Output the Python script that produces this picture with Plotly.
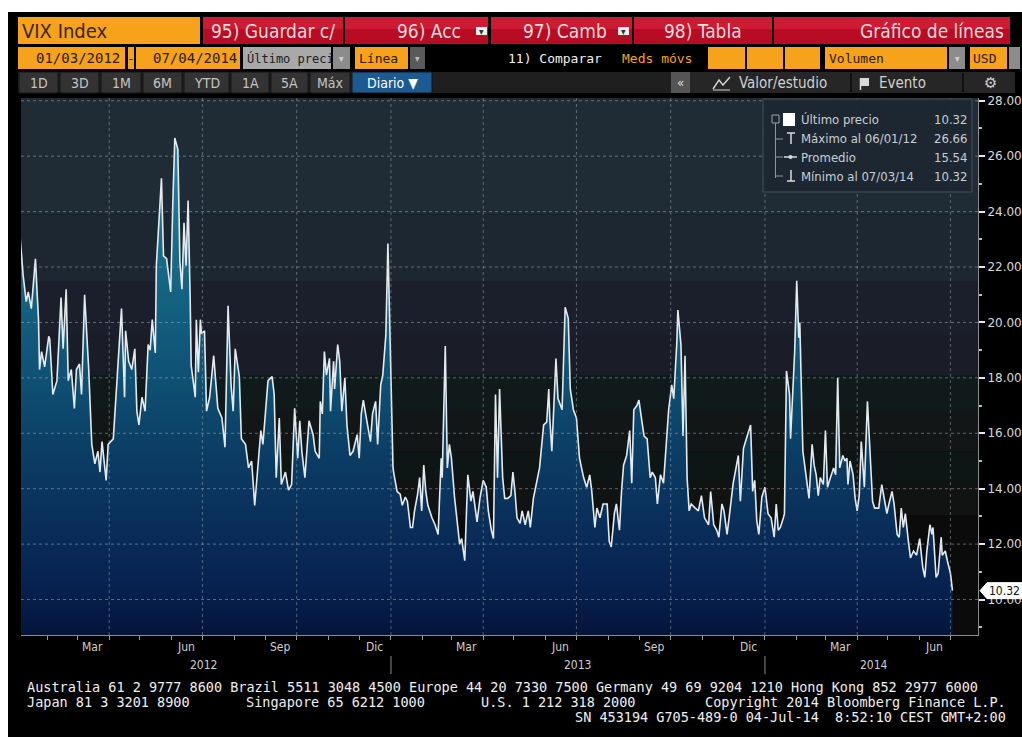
import plotly.graph_objects as go

# ---------------- data ----------------
dates = [
    "2012-01-05", "2012-01-08", "2012-01-11", "2012-01-13", "2012-01-16", "2012-01-20", "2012-01-23",
    "2012-01-24", "2012-01-26", "2012-01-29", "2012-02-02", "2012-02-03", "2012-02-06", "2012-02-10",
    "2012-02-14", "2012-02-16", "2012-02-19", "2012-02-21", "2012-02-24", "2012-02-27", "2012-02-29",
    "2012-03-03", "2012-03-05", "2012-03-08", "2012-03-12", "2012-03-15", "2012-03-18", "2012-03-21",
    "2012-03-23", "2012-03-25", "2012-03-29", "2012-03-31", "2012-04-05", "2012-04-08", "2012-04-13",
    "2012-04-16", "2012-04-17", "2012-04-20", "2012-04-23", "2012-04-26", "2012-04-28", "2012-04-30",
    "2012-05-03", "2012-05-06", "2012-05-09", "2012-05-11", "2012-05-13", "2012-05-16", "2012-05-17",
    "2012-05-22", "2012-05-24", "2012-05-27", "2012-05-29", "2012-05-31", "2012-06-02", "2012-06-04",
    "2012-06-07", "2012-06-09", "2012-06-11", "2012-06-13", "2012-06-15", "2012-06-17", "2012-06-19",
    "2012-06-20", "2012-06-24", "2012-06-25", "2012-06-27", "2012-06-29", "2012-06-30", "2012-07-03",
    "2012-07-05", "2012-07-08", "2012-07-12", "2012-07-13", "2012-07-16", "2012-07-20", "2012-07-23",
    "2012-07-26", "2012-07-29", "2012-07-31", "2012-08-02", "2012-08-06", "2012-08-08", "2012-08-12",
    "2012-08-15", "2012-08-18", "2012-08-21", "2012-08-25", "2012-08-27", "2012-08-29", "2012-08-31",
    "2012-09-03", "2012-09-07", "2012-09-09", "2012-09-11", "2012-09-14", "2012-09-16", "2012-09-20",
    "2012-09-23", "2012-09-26", "2012-09-29", "2012-10-02", "2012-10-04", "2012-10-06", "2012-10-09",
    "2012-10-13", "2012-10-17", "2012-10-19", "2012-10-23", "2012-10-24", "2012-10-26", "2012-10-28",
    "2012-10-30", "2012-11-02", "2012-11-03", "2012-11-06", "2012-11-07", "2012-11-10", "2012-11-12",
    "2012-11-14", "2012-11-17", "2012-11-19", "2012-11-22", "2012-11-25", "2012-11-29", "2012-12-01",
    "2012-12-03", "2012-12-05", "2012-12-08", "2012-12-12", "2012-12-14", "2012-12-17", "2012-12-19",
    "2012-12-22", "2012-12-24", "2012-12-27", "2012-12-29", "2013-01-01", "2013-01-03", "2013-01-04",
    "2013-01-07", "2013-01-10", "2013-01-12", "2013-01-15", "2013-01-17", "2013-01-20", "2013-01-22",
    "2013-01-24", "2013-01-27", "2013-01-29", "2013-01-31", "2013-02-02", "2013-02-04", "2013-02-06",
    "2013-02-10", "2013-02-13", "2013-02-16", "2013-02-19", "2013-02-20", "2013-02-23", "2013-02-25",
    "2013-02-27", "2013-03-01", "2013-03-04", "2013-03-06", "2013-03-09", "2013-03-11", "2013-03-14",
    "2013-03-17", "2013-03-20", "2013-03-22", "2013-03-26", "2013-03-29", "2013-04-01", "2013-04-04",
    "2013-04-06", "2013-04-09", "2013-04-11", "2013-04-13", "2013-04-15", "2013-04-17", "2013-04-20",
    "2013-04-22", "2013-04-25", "2013-04-28", "2013-04-30", "2013-05-02", "2013-05-04", "2013-05-07",
    "2013-05-09", "2013-05-12", "2013-05-15", "2013-05-17", "2013-05-20", "2013-05-23", "2013-05-26",
    "2013-05-30", "2013-06-02", "2013-06-04", "2013-06-05", "2013-06-07", "2013-06-11", "2013-06-13",
    "2013-06-17", "2013-06-20", "2013-06-23", "2013-06-25", "2013-06-28", "2013-07-01", "2013-07-04",
    "2013-07-08", "2013-07-11", "2013-07-14", "2013-07-16", "2013-07-19", "2013-07-21", "2013-07-24",
    "2013-07-27", "2013-07-31", "2013-08-02", "2013-08-04", "2013-08-07", "2013-08-09", "2013-08-12",
    "2013-08-14", "2013-08-16", "2013-08-19", "2013-08-22", "2013-08-24", "2013-08-26", "2013-08-29",
    "2013-08-31", "2013-09-03", "2013-09-05", "2013-09-08", "2013-09-11", "2013-09-13", "2013-09-16",
    "2013-09-18", "2013-09-21", "2013-09-24", "2013-09-26", "2013-09-29", "2013-10-02", "2013-10-04",
    "2013-10-07", "2013-10-08", "2013-10-11", "2013-10-13", "2013-10-15", "2013-10-17", "2013-10-19",
    "2013-10-21", "2013-10-25", "2013-10-28", "2013-10-31", "2013-11-03", "2013-11-07", "2013-11-09",
    "2013-11-12", "2013-11-15", "2013-11-17", "2013-11-20", "2013-11-22", "2013-11-25", "2013-11-27",
    "2013-12-01", "2013-12-04", "2013-12-06", "2013-12-08", "2013-12-11", "2013-12-13", "2013-12-16",
    "2013-12-18", "2013-12-20", "2013-12-22", "2013-12-24", "2013-12-26", "2013-12-29", "2014-01-01",
    "2014-01-04", "2014-01-07", "2014-01-10", "2014-01-12", "2014-01-14", "2014-01-16", "2014-01-19",
    "2014-01-20", "2014-01-22", "2014-01-25", "2014-01-26", "2014-01-28", "2014-01-30", "2014-02-01",
    "2014-02-03", "2014-02-04", "2014-02-06", "2014-02-07", "2014-02-10", "2014-02-13", "2014-02-16",
    "2014-02-18", "2014-02-20", "2014-02-22", "2014-02-24", "2014-02-27", "2014-03-01", "2014-03-03",
    "2014-03-05", "2014-03-09", "2014-03-11", "2014-03-13", "2014-03-15", "2014-03-18", "2014-03-20",
    "2014-03-22", "2014-03-23", "2014-03-25", "2014-03-28", "2014-03-30", "2014-04-01", "2014-04-03",
    "2014-04-05", "2014-04-08", "2014-04-11", "2014-04-13", "2014-04-16", "2014-04-18", "2014-04-22",
    "2014-04-25", "2014-04-27", "2014-04-30", "2014-05-02", "2014-05-05", "2014-05-07", "2014-05-10",
    "2014-05-12", "2014-05-14", "2014-05-16", "2014-05-18", "2014-05-21", "2014-05-23", "2014-05-26",
    "2014-05-29", "2014-06-01", "2014-06-04", "2014-06-06", "2014-06-08", "2014-06-11", "2014-06-13",
    "2014-06-14", "2014-06-17", "2014-06-19", "2014-06-22", "2014-06-23", "2014-06-26", "2014-06-28",
    "2014-07-01", "2014-07-03",
]
vix = [
    23.1, 21.7, 20.75, 21.1, 20.5, 22.3, 20.1,
    18.3, 18.95, 18.4, 19.5, 19.4, 17.4, 17.9,
    20.9, 19.05, 21.2, 17.9, 18.3, 16.9, 18.3,
    18.5, 17.4, 21.0, 18.3, 15.6, 14.9, 15.35,
    14.6, 15.7, 14.3, 15.6, 15.8, 17.7, 20.5,
    17.3, 19.7, 18.6, 18.3, 19.05, 16.8, 16.3,
    17.3, 16.8, 19.2, 19.0, 20.1, 18.9, 22.05,
    25.2, 22.4, 22.3, 21.6, 21.1, 24.2, 26.66,
    26.25, 22.2, 21.2, 23.6, 22.05, 24.4, 20.9,
    18.45, 17.3, 20.1, 18.2, 20.1, 19.6, 19.7,
    16.8, 17.3, 18.8, 18.35, 16.9, 16.55, 15.5,
    20.6, 17.7, 16.8, 19.05, 18.05, 15.8, 15.6,
    14.75, 15.0, 13.4, 15.2, 16.1, 15.6, 16.55,
    17.9, 18.05, 17.4, 14.4, 16.55, 14.15, 14.6,
    13.95, 14.15, 16.9, 15.1, 16.45, 15.35, 14.4,
    16.45, 15.95, 15.35, 15.1, 17.15, 16.7, 18.95,
    18.1, 18.7, 16.8, 18.6, 17.6, 19.2, 18.6,
    16.8, 18.0, 16.3, 15.2, 15.35, 15.95, 15.1,
    16.7, 17.2, 16.55, 15.7, 16.7, 17.15, 15.6,
    17.75, 18.1, 19.55, 22.85, 17.75, 14.75, 14.5,
    13.9, 13.8, 13.4, 13.7, 13.55, 12.6, 12.6,
    13.2, 13.8, 14.4, 13.2, 14.85, 13.9, 13.4,
    12.95, 12.7, 12.35, 15.1, 14.4, 19.15, 14.75,
    15.6, 15.1, 13.7, 12.95, 12.0, 12.2, 11.4,
    14.5, 13.55, 13.9, 12.8, 13.7, 14.3, 14.05,
    13.2, 12.5, 12.2, 17.4, 14.4, 17.6, 14.4,
    13.65, 13.65, 13.75, 14.6, 13.9, 12.95, 12.75,
    13.2, 12.7, 13.2, 12.6, 13.65, 14.2, 14.75,
    16.3, 16.4, 17.6, 16.55, 15.35, 18.7, 17.25,
    16.85, 20.55, 20.15, 17.6, 16.85, 16.55, 15.1,
    14.4, 14.05, 14.5, 13.9, 12.6, 13.3, 12.95,
    13.45, 13.45, 12.1, 11.9, 13.1, 13.45, 12.5,
    13.9, 14.85, 15.2, 16.1, 14.2, 16.85, 17.0,
    17.2, 16.4, 15.9, 15.8, 14.4, 14.6, 14.4,
    13.45, 14.5, 14.2, 15.35, 16.85, 17.75, 17.25,
    19.3, 20.45, 19.2, 15.9, 18.8, 14.4, 13.2,
    13.45, 13.3, 13.2, 13.75, 12.95, 12.7, 13.9,
    12.7, 12.5, 12.25, 13.45, 13.2, 12.35, 12.95,
    14.2, 14.8, 15.2, 13.55, 15.45, 15.7, 16.1,
    16.3, 13.9, 14.3, 12.85, 12.35, 13.7, 14.05,
    13.1, 12.95, 12.25, 13.45, 12.5, 12.6, 12.95,
    13.1, 18.25, 17.4, 15.8, 17.5, 18.95, 21.5,
    19.45, 20.0, 17.0, 15.35, 14.5, 13.65, 15.6,
    14.85, 14.5, 13.75, 14.4, 14.15, 16.1, 14.05,
    14.3, 14.75, 14.5, 18.0, 14.75, 15.2, 15.0,
    15.1, 14.15, 15.0, 14.5, 13.65, 13.2, 13.75,
    15.7, 14.05, 17.15, 15.7, 13.55, 13.3, 13.3,
    14.15, 13.75, 13.1, 13.45, 13.9, 13.45, 12.35,
    12.25, 13.3, 12.6, 13.1, 12.1, 11.5, 11.75,
    11.6, 12.2, 11.15, 10.8, 11.75, 12.7, 12.35,
    12.6, 10.8, 10.95, 12.25, 11.6, 11.75, 11.4,
    10.95, 10.32,
]

y_tick_values = [10, 12, 14, 16, 18, 20, 22, 24, 26, 28]
y_tick_labels = ["10.00", "12.00", "14.00", "16.00", "18.00", "20.00", "22.00", "24.00", "26.00", "28.00"]
y_minor_values = [9, 11, 13, 15, 17, 19, 21, 23, 25, 27]
month_labels = ["Mar", "Jun", "Sep", "Dic", "Mar", "Jun", "Sep", "Dic", "Mar", "Jun"]
month_label_dates = ["2012-03-16", "2012-06-15", "2012-09-15", "2012-12-16", "2013-03-16",
                     "2013-06-15", "2013-09-15", "2013-12-16", "2014-03-16", "2014-06-15"]
year_labels = ["2012", "2013", "2014"]
year_label_dates = ["2012-07-02", "2013-07-02", "2014-04-17"]
year_breaks = ["2013-01-01", "2014-01-01"]
quarter_starts = ["2012-04-01", "2012-07-01", "2012-10-01", "2013-01-01", "2013-04-01",
                  "2013-07-01", "2013-10-01", "2014-01-01", "2014-04-01", "2014-07-01"]
month_starts = ["2012-%02d-01" % m for m in range(2, 13)] + \
               ["2013-%02d-01" % m for m in range(1, 13)] + \
               ["2014-%02d-01" % m for m in range(1, 8)]
legend_rows = [("Último precio", "10.32"), ("Máximo al 06/01/12", "26.66"),
               ("Promedio", "15.54"), ("Mínimo al 07/03/14", "10.32")]
last_value = 10.32

# ---------------- geometry (page pixels; body margin removed below) ----------------
W, H = 1022, 737
L, R, T, B = 21, 978, 98, 635   # plot area in page pixels


def px(x):
    return (x - L) / (R - L)


def py(y):
    return (B - y) / (B - T)


COND = "DejaVu Sans Condensed, Liberation Sans Narrow, Roboto, sans-serif"
MONO = "DejaVu Sans Mono, Liberation Mono, monospace"

shapes = []
annotations = []


def rect(x0, y0, x1, y1, fill, line=None, lw=0, layer="above"):
    shapes.append(dict(type="rect", xref="paper", yref="paper",
                       x0=px(x0), x1=px(x1), y0=py(y1), y1=py(y0),
                       fillcolor=fill, line=dict(color=line or fill, width=lw), layer=layer))


def pline(x0, y0, x1, y1, color, w=1, dash=None):
    d = dict(color=color, width=w)
    if dash:
        d["dash"] = dash
    shapes.append(dict(type="line", xref="paper", yref="paper",
                       x0=px(x0), x1=px(x1), y0=py(y0), y1=py(y1), line=d, layer="above"))


def text(x, y, s, size, color, font=COND, anchor="left"):
    annotations.append(dict(xref="paper", yref="paper", x=px(x), y=py(y), text=s,
                            showarrow=False, xanchor=anchor, yanchor="middle",
                            borderpad=0, font=dict(size=size, color=color, family=font)))


# ---------------- frame ----------------
rect(0, 0, W, 12, "#ffffff")
rect(0, 0, 8, H, "#ffffff")

# ---------------- row 1 ----------------
rect(18, 17, 200, 44, "#f7a21b")
text(21, 31, "VIX Index", 20, "#3a2400")
red_buttons = [(203, 343), (345, 488), (491, 632), (634, 772), (774, 1010)]
for a, b in red_buttons:
    rect(a, 17, b, 44, "#b80c25")
    rect(a, 17, b, 29, "#cf1a33")
text(210, 31, "95) Guardar c/", 19, "#f3dcdc")
text(396, 31, "96) Acc", 19, "#f3dcdc")
text(522, 31, "97) Camb", 19, "#f3dcdc")
text(663, 31, "98) Tabla", 19, "#f3dcdc")
text(1005, 31, "Gráfico de líneas", 19, "#f3dcdc", anchor="right")
for xd in (476, 618):
    rect(xd, 27, xd + 11, 35, "#f0f0f0")
    text(xd + 5.5, 31, "▾", 10, "#333333", anchor="center")

# ---------------- row 2 ----------------
rect(18, 47, 125, 69, "#f7a21b")
text(121, 58, "01/03/2012", 14, "#2a1a00", MONO, "right")
rect(128, 47, 134, 69, "#f7a21b")
text(131, 58, "-", 13, "#2a1a00", MONO, "center")
rect(136, 47, 240, 69, "#f7a21b")
text(238, 58, "07/04/2014", 14, "#2a1a00", MONO, "right")
rect(243, 47, 331, 69, "#a9a9a9")
text(246, 58, "Último preci", 12, "#202020", MONO)
rect(333, 47, 350, 69, "#8c8c8c")
text(341.5, 58, "▾", 10, "#d0d0d0", anchor="center")
rect(355, 47, 408, 69, "#f7a21b")
text(358, 58, "Línea", 13, "#2a1a00", MONO)
rect(410, 47, 425, 69, "#5a5a5a")
text(417.5, 58, "▾", 10, "#bbbbbb", anchor="center")
text(507, 58, "11) Comparar", 13, "#f0f0f0", MONO)
text(621, 58, "Meds móvs", 13, "#f7a21b", MONO)
for a, b in ((708, 745), (747, 783), (785, 820)):
    rect(a, 47, b, 69, "#f7a21b")
rect(825, 47, 947, 69, "#f7a21b")
text(828, 58, "Volumen", 13, "#2a1a00", MONO)
rect(949, 47, 965, 69, "#8c8c8c")
text(957, 58, "▾", 10, "#d0d0d0", anchor="center")
rect(970, 47, 1007, 69, "#f7a21b")
text(972, 58, "USD", 13, "#2a1a00", MONO)
rect(1009, 47, 1020, 69, "#8c8c8c")

# ---------------- row 3 ----------------
rect(18, 72, 1015, 93, "#1f1f1f")
period_buttons = [("1D", 19, 58), ("3D", 60, 99), ("1M", 101, 141), ("6M", 143, 182),
                  ("YTD", 184, 229), ("1A", 231, 269), ("5A", 271, 308), ("Máx", 310, 350)]
for lab, a, b in period_buttons:
    rect(a, 72, b, 93, "#333333", "#151515", 1)
    text((a + b) / 2, 83, lab, 14, "#c4c4c4", anchor="center")
rect(352, 72, 432, 93, "#1c5a92", "#151515", 1)
text(392, 83, "Diario ▼", 14, "#ffffff", anchor="center")
rect(671, 72, 690, 93, "#555555")
text(680.5, 83, "«", 13, "#e0e0e0", anchor="center")
rect(690, 72, 1015, 93, "#262626")
shapes.append(dict(type="path", xref="paper", yref="paper",
                   path="M %f,%f L %f,%f L %f,%f L %f,%f" % (px(713), py(89), px(719), py(80),
                                                            px(723), py(85), px(730), py(77)),
                   line=dict(color="#d0d0d0", width=1.5), layer="above"))
pline(713, 90, 730, 90, "#d0d0d0", 1)
text(738, 83, "Valor/estudio", 15, "#d0d0d0")
pline(851, 73, 851, 92, "#111111", 2)
rect(860, 78, 869, 86, "#d8d8d8")
pline(860.5, 78, 860.5, 90, "#d8d8d8", 1.5)
text(878, 83, "Evento", 15, "#d0d0d0")
pline(963, 73, 963, 92, "#111111", 2)
text(990, 83, "⚙", 15, "#d0d0d0", "DejaVu Sans", "center")

# ---------------- plot background bands (value ranges) ----------------
bands = [(8.0, 13.05, "#0b0b0b"), (13.05, 14.25, "#111212"), (14.25, 15.35, "#0e1515"),
         (15.35, 16.8, "#121616"), (16.8, 18.1, "#101a1b"), (18.1, 19.55, "#1a1d27"),
         (19.55, 21.5, "#1b1f2b"), (21.5, 23.9, "#1c2731"), (23.9, 28.5, "#1f2b35")]
for lo, hi, col in bands:
    shapes.append(dict(type="rect", xref="paper", yref="y", x0=0, x1=1, y0=lo, y1=hi,
                       fillcolor=col, line=dict(width=0), layer="below"))

# grid (drawn above the fill, as in the reference)
for v in y_tick_values:
    shapes.append(dict(type="line", xref="paper", yref="y", x0=0, x1=1, y0=v, y1=v,
                       line=dict(color="rgba(160,170,180,0.55)", width=1, dash="dot"), layer="above"))
for d in quarter_starts:
    shapes.append(dict(type="line", xref="x", yref="paper", x0=d, x1=d, y0=0, y1=1,
                       line=dict(color="rgba(160,170,180,0.5)", width=1, dash="dot"), layer="above"))

# ---------------- legend box ----------------
rect(763, 99, 972, 192, "rgba(28,40,50,0.96)", "#44535d", 1)
rect(772, 115, 779, 123, "rgba(0,0,0,0)", "#9aa3aa", 1)
rect(783, 113, 795, 126, "#ffffff")
pline(775.5, 123, 775.5, 178, "#8e979d", 1)
for yy in (139, 157, 176):
    pline(775.5, yy, 783, yy, "#8e979d", 1)
pline(787, 133, 795, 133, "#d8dde0", 1.5)
pline(791, 133, 791, 144, "#d8dde0", 1.5)
pline(784, 157, 797, 157, "#d8dde0", 1.5)
shapes.append(dict(type="circle", xref="paper", yref="paper", x0=px(788.5), x1=px(792.5),
                   y0=py(159), y1=py(155), fillcolor="#d8dde0", line=dict(width=0), layer="above"))
pline(791, 170, 791, 181, "#d8dde0", 1.5)
pline(787, 181, 795, 181, "#d8dde0", 1.5)
for i, (lab, val) in enumerate(legend_rows):
    yy = 120 + i * 18.7
    text(800, yy, lab, 13, "#c9ced2")
    text(968, yy, val, 13, "#c9ced2", anchor="right")

# ---------------- axis labels below the plot ----------------
for lab, d in zip(month_labels, month_label_dates):
    annotations.append(dict(xref="x", yref="paper", x=d, y=py(647), text=lab, showarrow=False,
                            xanchor="center", yanchor="middle",
                            font=dict(size=12, color="#cfcfcf", family=COND)))
for lab, d in zip(year_labels, year_label_dates):
    annotations.append(dict(xref="x", yref="paper", x=d, y=py(665), text=lab, showarrow=False,
                            xanchor="center", yanchor="middle",
                            font=dict(size=12, color="#cfcfcf", family=COND)))
for d in year_breaks:
    shapes.append(dict(type="line", xref="x", yref="paper", x0=d, x1=d, y0=py(656), y1=py(674),
                       line=dict(color="#8a8a8a", width=1), layer="above"))

# ---------------- footer ----------------
FOOT = 13.5
text(26, 687, "Australia 61 2 9777 8600 Brazil 5511 3048 4500 Europe 44 20 7330 7500 "
              "Germany 49 69 9204 1210 Hong Kong 852 2977 6000", FOOT, "#f0f0f0", MONO)
text(26, 702, "Japan 81 3 3201 8900", FOOT, "#f0f0f0", MONO)
text(245, 702, "Singapore 65 6212 1000", FOOT, "#f0f0f0", MONO)
text(480, 702, "U.S. 1 212 318 2000", FOOT, "#f0f0f0", MONO)
text(1007, 702, "Copyright 2014 Bloomberg Finance L.P.", FOOT, "#f0f0f0", MONO, "right")
text(1007, 717, "SN 453194 G705-489-0 04-Jul-14  8:52:10 CEST GMT+2:00", FOOT, "#f0f0f0", MONO, "right")

# ---------------- last price tag ----------------
shapes.append(dict(type="path", xref="paper", yref="y", xsizemode="pixel", ysizemode="pixel",
                   xanchor=1, yanchor=last_value,
                   path="M 2,0 L 9,8 L 46,8 L 46,-8 L 9,-8 Z",
                   fillcolor="#ffffff", line=dict(color="#ffffff", width=1), layer="above"))
annotations.append(dict(xref="paper", yref="y", x=px(1004), y=last_value, text="%.2f" % last_value,
                        showarrow=False, xanchor="center", yanchor="middle",
                        font=dict(size=12, color="#111111", family=COND)))

# ---------------- trace ----------------
fig = go.Figure()
fig.add_trace(go.Scatter(
    x=dates, y=vix, mode="lines",
    line=dict(color="#e4ebef", width=1.6),
    fill="tozeroy",
    fillgradient=dict(type="vertical", start=8.7, stop=27.0,
                      colorscale=[[0.0, "#04143a"], [0.1, "#072250"], [0.2, "#092c58"],
                                  [0.35, "#0b3c63"], [0.5, "#0e5073"], [0.65, "#13607f"],
                                  [0.8, "#1b6e8c"], [1.0, "#2a86a3"]]),
    hoverinfo="skip", showlegend=False,
))

fig.update_layout(
    width=W, height=H, autosize=False,
    margin=dict(l=L, r=W - R, t=T, b=H - B, pad=0, autoexpand=False),
    paper_bgcolor="#000000", plot_bgcolor="#0b0b0b",
    showlegend=False,
    shapes=shapes, annotations=annotations,
    xaxis=dict(type="date", range=["2012-01-05 22:00", "2014-07-27 22:00"], automargin=False,
               tickvals=quarter_starts, ticktext=[""] * len(quarter_starts),
               ticks="outside", ticklen=4, tickcolor="#9a9a9a", tickwidth=1,
               minor=dict(tickvals=month_starts, ticks="outside", ticklen=4, tickcolor="#9a9a9a",
                          showgrid=False),
               showgrid=False, zeroline=False, showline=True, linecolor="#8c8c8c", linewidth=1,
               fixedrange=True),
    yaxis=dict(range=[8.72, 28.1], side="right", automargin=False,
               tickvals=y_tick_values, ticktext=y_tick_labels,
               ticks="outside", ticklen=6, tickwidth=2, tickcolor="#e6e6e6",
               tickfont=dict(size=12, color="#d8d8d8", family="DejaVu Sans, sans-serif"),
               minor=dict(tickvals=y_minor_values, ticks="outside", ticklen=3, tickcolor="#bdbdbd",
                          showgrid=False),
               showgrid=False, zeroline=False, showline=True, linecolor="#8c8c8c", linewidth=1,
               fixedrange=True),
)

fig.write_html(
    "out.html",
    config={"displayModeBar": False},
    post_script="document.body.style.margin='0';document.body.style.padding='0';"
                "document.documentElement.style.overflow='hidden';",
)
